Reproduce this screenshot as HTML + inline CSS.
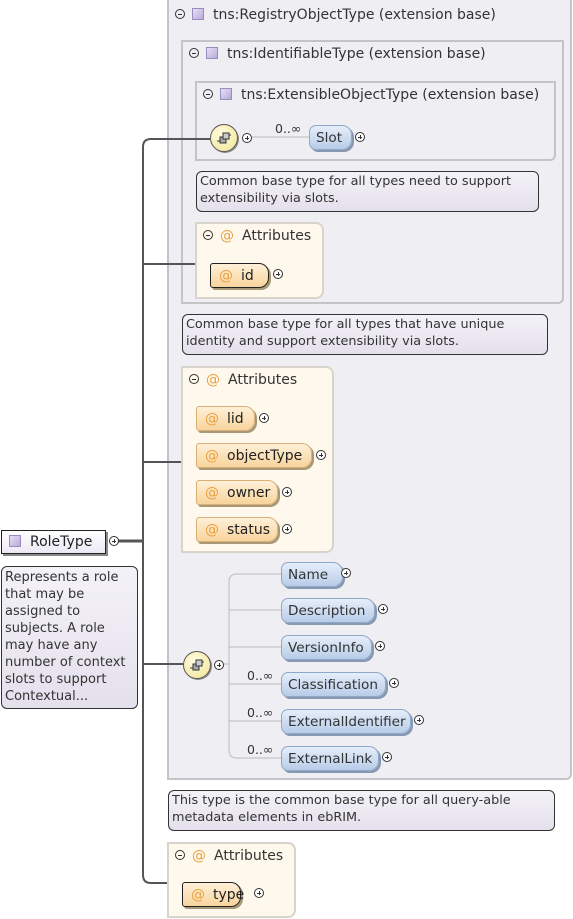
<!DOCTYPE html>
<html><head><meta charset="utf-8"><style>
body{margin:0;width:573px;height:919px;background:#fff;position:relative;overflow:hidden;font-family:"DejaVu Sans","Liberation Sans",sans-serif;font-size:14px;color:#222}
.a{position:absolute;box-sizing:border-box}
.grp{background:#efeff3;border:2px solid #c4c4c8;border-radius:0 0 6px 0}
.hdr{position:absolute;left:6px;top:4px;white-space:nowrap;color:#333}
.min{display:inline-block;width:10px;height:10px;box-sizing:border-box;border:1px solid #333;border-radius:50%;position:relative;vertical-align:0px;margin-right:7px}
.min:after{content:"";position:absolute;left:2px;top:3.5px;width:4px;height:1px;background:#333}
.pl{display:inline-block;width:10px;height:10px;box-sizing:border-box;border:1px solid #333;border-radius:50%;position:relative;background:#fff}
.a.pl{position:absolute}
.pl:after{content:"";position:absolute;left:2px;top:3.5px;width:4px;height:1px;background:#333}
.pl:before{content:"";position:absolute;left:3.5px;top:2px;width:1px;height:4px;background:#333}
.sq{display:inline-block;width:12px;height:12px;box-sizing:border-box;background:linear-gradient(135deg,#e6e0f4,#b8aad8);border:1px solid #9a8cc0;vertical-align:-1px;margin-right:9px}
.at{color:#e8a040;margin-right:8px}
.cm{background:linear-gradient(#f4f2f8,#e4e0ec);border:1px solid #333;border-radius:6px;font-size:12.8px;line-height:17px;padding:1px 3px;color:#333}
.attrs{background:#fff8ec;border:2px solid #d8d4cc;border-radius:0 8px 8px 0}
.ap{background:linear-gradient(#fff0d8,#f8d49c);border:1px solid #d8b078;border-radius:3px 10px 10px 3px;box-shadow:2px 2px 0 #a89878;padding:4px 0 0 8px;white-space:nowrap}
.ep{background:linear-gradient(#e6eefa,#b8cce8);border:1px solid #90a8c8;border-radius:7px 10px 10px 7px;box-shadow:2px 2px 0 #8898b0;padding:4px 0 0 6px;white-space:nowrap;color:#333;font-size:13.6px}
.lbl{position:absolute;font-size:12.5px;color:#333}
.seq{border-radius:50%;background:radial-gradient(circle at 40% 35%,#fffce0,#f0e490);border:1px solid #555;box-shadow:1px 1px 0 #888}
</style></head><body>

<div class="a grp" style="left:167px;top:-4px;width:405px;height:784px"><div class="hdr" style="top:9px"><span class="min"></span><span class="sq"></span>tns:RegistryObjectType (extension base)</div></div>
<div class="a grp" style="left:181px;top:40px;width:383px;height:264px"><div class="hdr"><span class="min"></span><span class="sq"></span>tns:IdentifiableType (extension base)</div></div>
<div class="a grp" style="left:195px;top:81px;width:361px;height:80px"><div class="hdr"><span class="min"></span><span class="sq"></span>tns:ExtensibleObjectType (extension base)</div></div>

<svg class="a" style="left:0;top:0" width="573" height="919">
<g fill="none" stroke="#555" stroke-width="2">
<path d="M210 139 H151 Q143 139 143 147 V875 Q143 883 151 883 H167"/>
<path d="M143 264 H195 M143 462 H181 M143 664 H183"/>
<path d="M113 541 H143" stroke-width="3"/>
</g>
<g fill="none" stroke="#bbb" stroke-width="1">
<path d="M252 137 H309"/>
<path d="M281 574 H237 Q229 574 229 582 V750 Q229 758 237 758 H281"/>
<path d="M229 610 H281 M229 647 H281 M229 684 H281 M229 721 H281 M221 664 H229"/>
</g>
</svg>

<div class="a seq" style="left:210px;top:124px;width:28px;height:28px"></div>
<svg class="a" style="left:214px;top:128px" width="20" height="20"><path d="M3 13h4M13 7h4" stroke="#333"/><rect x="6" y="9" width="6" height="6" fill="#aaa" stroke="#333"/><rect x="9" y="5" width="6" height="6" fill="#ccc" stroke="#333"/></svg>
<span class="a pl" style="left:242px;top:133px"></span>
<div class="lbl" style="left:275px;top:121px">0..∞</div>
<div class="a ep" style="left:309px;top:125px;width:43px;height:25px">Slot</div>
<span class="a pl" style="left:355px;top:132px"></span>

<div class="a cm" style="left:196px;top:171px;width:343px;height:41px">Common base type for all types need to support extensibility via slots.</div>

<div class="a attrs" style="left:195px;top:222px;width:129px;height:77px"><div class="hdr"><span class="min"></span><span class="at">@</span>Attributes</div></div>
<div class="a ap" style="left:210px;top:263px;width:59px;height:25px;border-color:#222"><span class="at">@</span>id</div>
<span class="a pl" style="left:273px;top:269px"></span>

<div class="a cm" style="left:182px;top:314px;width:366px;height:41px">Common base type for all types that have unique identity and support extensibility via slots.</div>

<div class="a attrs" style="left:181px;top:366px;width:153px;height:187px"><div class="hdr"><span class="min"></span><span class="at">@</span>Attributes</div></div>
<div class="a ap" style="left:196px;top:406px;width:59px;height:25px"><span class="at">@</span>lid</div><span class="a pl" style="left:259px;top:413px"></span>
<div class="a ap" style="left:196px;top:443px;width:116px;height:25px"><span class="at">@</span>objectType</div><span class="a pl" style="left:316px;top:450px"></span>
<div class="a ap" style="left:196px;top:480px;width:82px;height:25px"><span class="at">@</span>owner</div><span class="a pl" style="left:282px;top:487px"></span>
<div class="a ap" style="left:196px;top:517px;width:82px;height:25px"><span class="at">@</span>status</div><span class="a pl" style="left:282px;top:524px"></span>

<div class="a seq" style="left:183px;top:651px;width:28px;height:28px"></div>
<svg class="a" style="left:187px;top:655px" width="20" height="20"><path d="M3 13h4M13 7h4" stroke="#333"/><rect x="6" y="9" width="6" height="6" fill="#aaa" stroke="#333"/><rect x="9" y="5" width="6" height="6" fill="#ccc" stroke="#333"/></svg>
<span class="a pl" style="left:214px;top:660px"></span>
<div class="a ep" style="left:281px;top:562px;width:62px;height:25px">Name</div><span class="a pl" style="left:341px;top:568px"></span>
<div class="a ep" style="left:281px;top:598px;width:94px;height:25px">Description</div><span class="a pl" style="left:378px;top:604px"></span>
<div class="a ep" style="left:281px;top:635px;width:91px;height:25px">VersionInfo</div><span class="a pl" style="left:375px;top:641px"></span>
<div class="lbl" style="left:247px;top:668px">0..∞</div>
<div class="a ep" style="left:281px;top:672px;width:105px;height:25px">Classification</div><span class="a pl" style="left:389px;top:678px"></span>
<div class="lbl" style="left:247px;top:705px">0..∞</div>
<div class="a ep" style="left:281px;top:709px;width:130px;height:25px">ExternalIdentifier</div><span class="a pl" style="left:414px;top:715px"></span>
<div class="lbl" style="left:247px;top:742px">0..∞</div>
<div class="a ep" style="left:281px;top:746px;width:98px;height:25px">ExternalLink</div><span class="a pl" style="left:382px;top:752px"></span>

<div class="a cm" style="left:168px;top:790px;width:387px;height:41px">This type is the common base type for all query-able metadata elements in ebRIM.</div>

<div class="a attrs" style="left:167px;top:842px;width:129px;height:76px"><div class="hdr"><span class="min"></span><span class="at">@</span>Attributes</div></div>
<div class="a ap" style="left:182px;top:882px;width:59px;height:25px;border-color:#222"><span class="at">@</span>type</div>
<span class="a pl" style="left:254px;top:888px"></span>

<div class="a" style="left:1px;top:530px;width:105px;height:24px;border:1px solid #222;box-shadow:2px 2px 0 #888;background:linear-gradient(#fff,#ece8f4);padding:3px 0 0 7px;white-space:nowrap"><span class="sq"></span>RoleType</div>
<span class="a pl" style="left:109px;top:536px"></span>
<div class="a cm" style="left:1px;top:566px;width:137px;height:143px;font-size:13px;white-space:nowrap;padding-top:2px">Represents a role<br>that may be<br>assigned to<br>subjects. A role<br>may have any<br>number of context<br>slots to support<br>Contextual...</div>
</body></html>
